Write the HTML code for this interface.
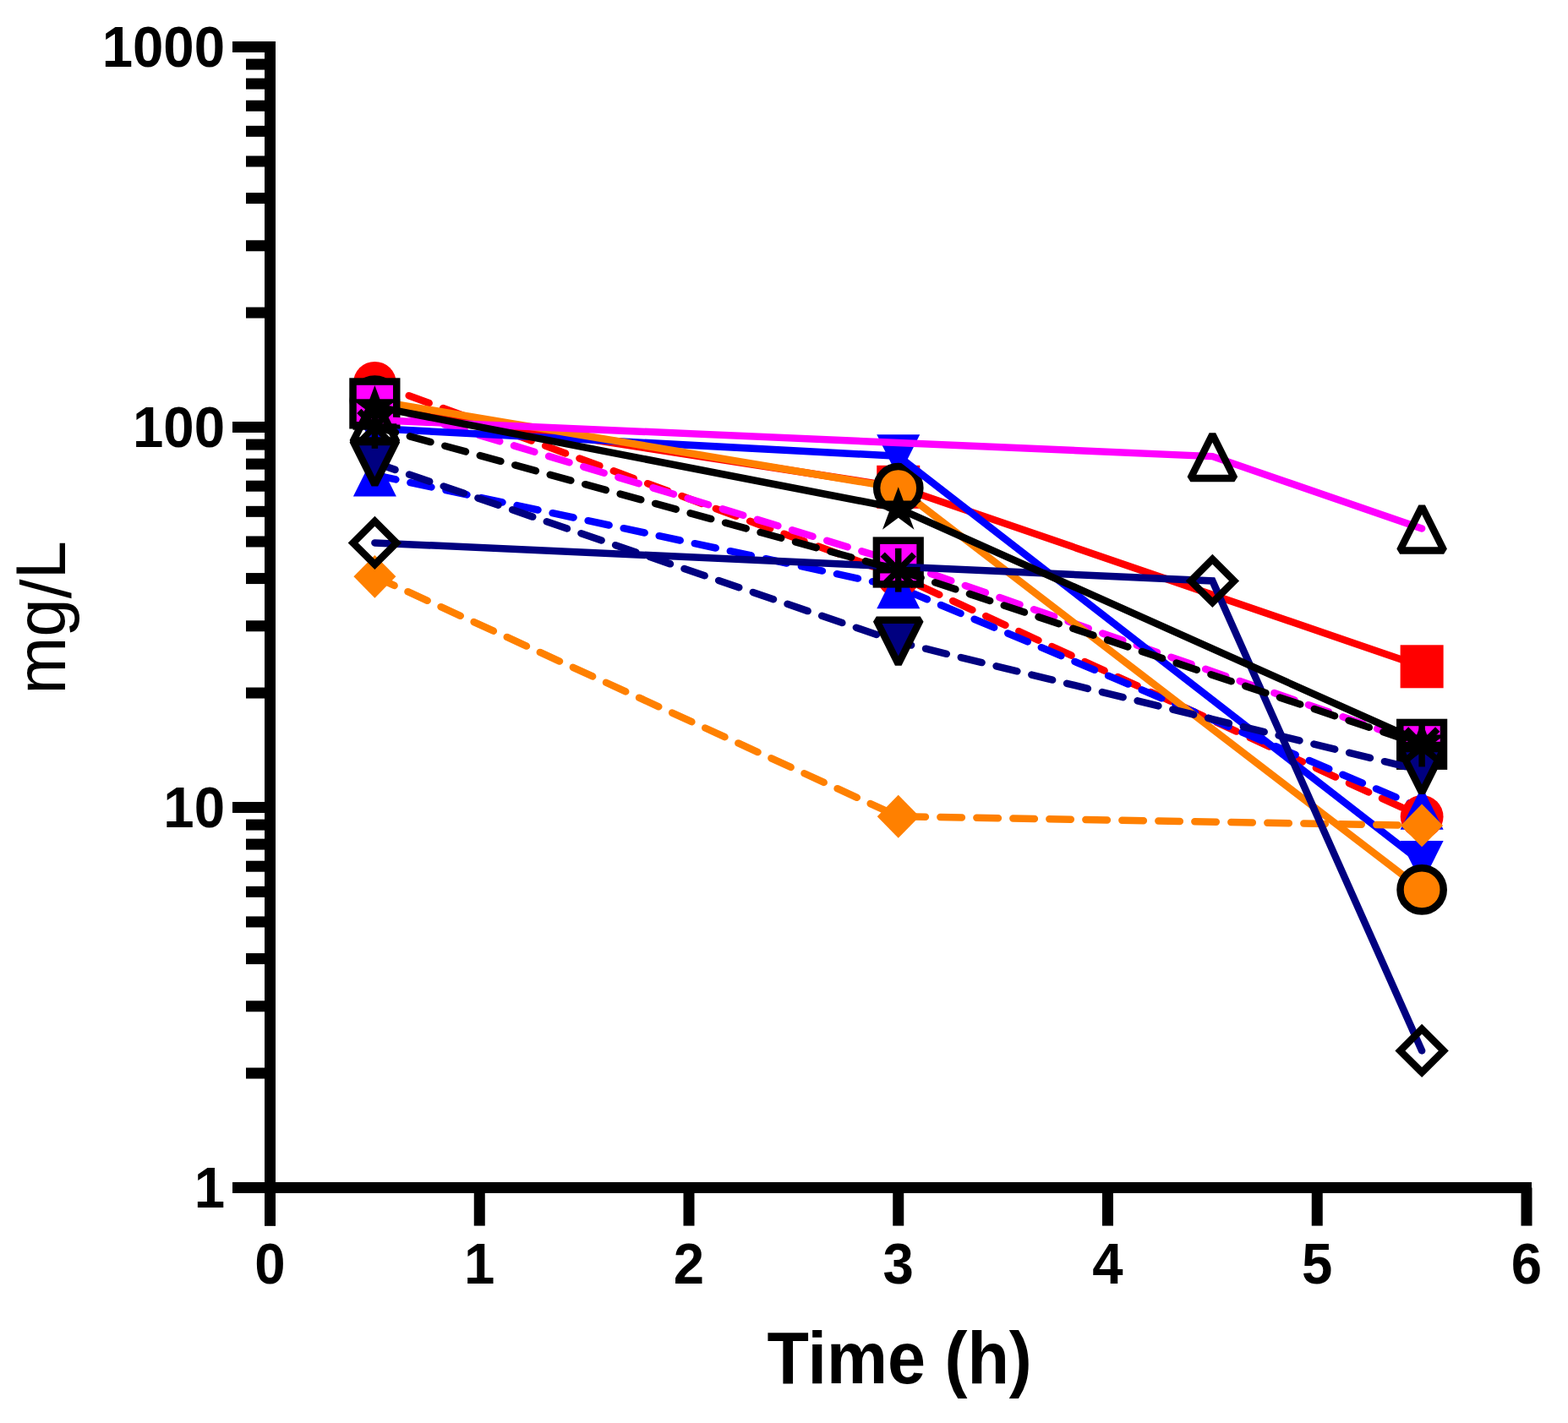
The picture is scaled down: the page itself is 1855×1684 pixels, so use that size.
<!DOCTYPE html>
<html><head><meta charset="utf-8"><title>mg/L vs Time</title>
<style>html,body{margin:0;padding:0;background:#fff;}svg{display:block;}
text{font-family:"Liberation Sans",Arial,sans-serif;fill:#000;}</style></head>
<body><svg width="1855" height="1684" viewBox="0 0 1855 1684">
<rect width="1855" height="1684" fill="#fff"/>
<g id="data">
<path d="M443.38 453.3 L1062.75 681.5 L1682.12 966.5" fill="none" stroke="#FF0000" stroke-width="8.5" stroke-linecap="round" stroke-linejoin="miter" stroke-dasharray="25.5 17.5"/>
<path d="M443.38 480.6 L1062.75 576.3 L1682.12 788.8" fill="none" stroke="#FF0000" stroke-width="8.5" stroke-linecap="round" stroke-linejoin="miter"/>
<path d="M443.38 562.1 L1062.75 694.8 L1682.12 956.3" fill="none" stroke="#0000FF" stroke-width="8.5" stroke-linecap="round" stroke-linejoin="miter" stroke-dasharray="25.5 17.5"/>
<path d="M443.38 477.4 L1062.75 665.5 L1682.12 880.8" fill="none" stroke="#FF00FF" stroke-width="8.5" stroke-linecap="round" stroke-linejoin="miter" stroke-dasharray="25.5 17.5"/>
<path d="M443.38 507 L1062.75 539.8" fill="none" stroke="#0000FF" stroke-width="8.5" stroke-linecap="round" stroke-linejoin="miter"/>
<circle cx="443.38" cy="453.3" r="25.4" fill="#FF0000"/><circle cx="1062.75" cy="681.5" r="25.4" fill="#FF0000"/><circle cx="1682.12" cy="966.5" r="25.4" fill="#FF0000"/>
<rect x="417.88" y="455.1" width="51" height="51" fill="#FF0000"/><rect x="1037.25" y="550.8" width="51" height="51" fill="#FF0000"/><rect x="1656.62" y="763.3" width="51" height="51" fill="#FF0000"/>
<path d="M443.38 474.1 L1062.75 577.6 L1682.12 1052.9" fill="none" stroke="#FF8000" stroke-width="8.5" stroke-linecap="round" stroke-linejoin="miter"/>
<polygon points="443.38,532.5 468.88,481.5 417.88,481.5" fill="#0000FF"/><polygon points="1062.75,565.3 1088.25,514.3 1037.25,514.3" fill="#0000FF"/><polygon points="1682.12,1046.1 1707.62,995.1 1656.62,995.1" fill="#0000FF"/>
<polygon points="443.38,536.6 468.88,587.6 417.88,587.6" fill="#0000FF"/><polygon points="1062.75,669.3 1088.25,720.3 1037.25,720.3" fill="#0000FF"/><polygon points="1682.12,930.8 1707.62,981.8 1656.62,981.8" fill="#0000FF"/>
<polygon points="443.38,656.9 468.38,682.3 443.38,707.7 418.38,682.3" fill="#FF8000"/><polygon points="1062.75,940.85 1087.75,966.25 1062.75,991.65 1037.75,966.25" fill="#FF8000"/><polygon points="1682.12,951.5 1707.12,976.9 1682.12,1002.3 1657.12,976.9" fill="#FF8000"/>
<circle cx="443.38" cy="474.1" r="25.6" fill="#FF8000" stroke="#000" stroke-width="8.5"/><circle cx="1062.75" cy="577.6" r="25.6" fill="#FF8000" stroke="#000" stroke-width="8.5"/>
<path d="M1062.75 539.8 L1682.12 1020.6" fill="none" stroke="#0000FF" stroke-width="8.5" stroke-linecap="round" stroke-linejoin="miter"/>
<path d="M443.38 682.3 L1062.75 966.25 L1682.12 976.9" fill="none" stroke="#FF8000" stroke-width="8.5" stroke-linecap="round" stroke-linejoin="miter" stroke-dasharray="25.5 17.5"/>
<circle cx="1682.12" cy="1052.9" r="25.6" fill="#FF8000" stroke="#000" stroke-width="8.5"/>
<rect x="417.52" y="451.55" width="51.7" height="51.7" fill="#FF00FF" stroke="#000" stroke-width="8.5"/><rect x="1036.9" y="639.65" width="51.7" height="51.7" fill="#FF00FF" stroke="#000" stroke-width="8.5"/><rect x="1656.28" y="854.95" width="51.7" height="51.7" fill="#FF00FF" stroke="#000" stroke-width="8.5"/>
<path d="M443.38 497 L1434.38 540.1 L1682.12 625.4" fill="none" stroke="#FF00FF" stroke-width="8.5" stroke-linecap="round" stroke-linejoin="miter"/>
<path d="M443.38 547.6 L1062.75 759.8 L1682.12 912" fill="none" stroke="#000080" stroke-width="8.5" stroke-linecap="round" stroke-linejoin="miter" stroke-dasharray="25.5 17.5"/>
<path d="M443.38 642.4 L1434.38 687.4 L1682.12 1243.4" fill="none" stroke="#000080" stroke-width="8.5" stroke-linecap="round" stroke-linejoin="miter"/>
<path d="M443.38 505 L1062.75 674.75 L1682.12 881.6" fill="none" stroke="#000000" stroke-width="8.5" stroke-linecap="round" stroke-linejoin="miter" stroke-dasharray="25.5 17.5"/>
<path d="M443.38 481.2 L1062.75 601.5 L1682.12 878.5" fill="none" stroke="#000000" stroke-width="8.5" stroke-linecap="round" stroke-linejoin="miter"/>
<polygon points="443.38,573.6 469.38,521.6 417.38,521.6" fill="#000080" stroke="#000" stroke-width="8.5" stroke-linejoin="miter" stroke-miterlimit="1.5"/><polygon points="1062.75,785.8 1088.75,733.8 1036.75,733.8" fill="#000080" stroke="#000" stroke-width="8.5" stroke-linejoin="miter" stroke-miterlimit="1.5"/><polygon points="1682.12,938 1708.12,886 1656.12,886" fill="#000080" stroke="#000" stroke-width="8.5" stroke-linejoin="miter" stroke-miterlimit="1.5"/>
<polygon points="443.38,616.7 469.07,642.4 443.38,668.1 417.68,642.4" fill="none" stroke="#000" stroke-width="8.5" stroke-linejoin="miter" stroke-miterlimit="4"/><polygon points="1434.38,661.7 1460.08,687.4 1434.38,713.1 1408.67,687.4" fill="none" stroke="#000" stroke-width="8.5" stroke-linejoin="miter" stroke-miterlimit="4"/><polygon points="1682.12,1217.7 1707.83,1243.4 1682.12,1269.1 1656.42,1243.4" fill="none" stroke="#000" stroke-width="8.5" stroke-linejoin="miter" stroke-miterlimit="4"/>
<polygon points="443.38,471 469.38,523 417.38,523" fill="none" stroke="#000" stroke-width="8.5" stroke-linejoin="miter" stroke-miterlimit="1.5"/><polygon points="1434.38,514.1 1460.38,566.1 1408.38,566.1" fill="none" stroke="#000" stroke-width="8.5" stroke-linejoin="miter" stroke-miterlimit="1.5"/><polygon points="1682.12,599.4 1708.12,651.4 1656.12,651.4" fill="none" stroke="#000" stroke-width="8.5" stroke-linejoin="miter" stroke-miterlimit="1.5"/>
<polygon points="443.38,455.9 449.43,472.2 470.88,472.2 454.06,484.66 462.18,506.5 443.38,492.57 424.57,506.5 432.69,484.66 415.88,472.2 437.32,472.2" fill="#000"/><polygon points="1062.75,576.2 1068.81,592.5 1090.25,592.5 1073.43,604.96 1081.55,626.8 1062.75,612.87 1043.95,626.8 1052.07,604.96 1035.25,592.5 1056.69,592.5" fill="#000"/><polygon points="1682.12,853.2 1688.18,869.5 1709.62,869.5 1692.81,881.96 1700.92,903.8 1682.12,889.87 1663.33,903.8 1671.44,881.96 1654.62,869.5 1676.07,869.5" fill="#000"/>
<line x1="443.38" y1="479.15" x2="443.38" y2="530.85" stroke="#000" stroke-width="7.5"/><line x1="417.52" y1="505" x2="469.23" y2="505" stroke="#000" stroke-width="7.5"/><line x1="424.77" y1="486.4" x2="461.98" y2="523.6" stroke="#000" stroke-width="7.5"/><line x1="424.77" y1="523.6" x2="461.98" y2="486.4" stroke="#000" stroke-width="7.5"/><line x1="1062.75" y1="648.9" x2="1062.75" y2="700.6" stroke="#000" stroke-width="7.5"/><line x1="1036.9" y1="674.75" x2="1088.6" y2="674.75" stroke="#000" stroke-width="7.5"/><line x1="1044.15" y1="656.15" x2="1081.35" y2="693.35" stroke="#000" stroke-width="7.5"/><line x1="1044.15" y1="693.35" x2="1081.35" y2="656.15" stroke="#000" stroke-width="7.5"/><line x1="1682.12" y1="855.75" x2="1682.12" y2="907.45" stroke="#000" stroke-width="7.5"/><line x1="1656.28" y1="881.6" x2="1707.97" y2="881.6" stroke="#000" stroke-width="7.5"/><line x1="1663.53" y1="863" x2="1700.72" y2="900.2" stroke="#000" stroke-width="7.5"/><line x1="1663.53" y1="900.2" x2="1700.72" y2="863" stroke="#000" stroke-width="7.5"/>
</g>
<g id="axes">
<rect x="313" y="49" width="13" height="1401.6" fill="#000"/>
<rect x="313" y="1399" width="1499" height="13" fill="#000"/>
<rect x="313" y="1405.5" width="13" height="45.1" fill="#000"/>
<rect x="560.75" y="1405.5" width="13" height="45.1" fill="#000"/>
<rect x="808.5" y="1405.5" width="13" height="45.1" fill="#000"/>
<rect x="1056.25" y="1405.5" width="13" height="45.1" fill="#000"/>
<rect x="1304" y="1405.5" width="13" height="45.1" fill="#000"/>
<rect x="1551.75" y="1405.5" width="13" height="45.1" fill="#000"/>
<rect x="1799.5" y="1405.5" width="13" height="45.1" fill="#000"/>
<rect x="275" y="1399" width="44.5" height="13" fill="#000"/>
<rect x="291" y="1263.54" width="28.5" height="13" fill="#000"/>
<rect x="291" y="1184.3" width="28.5" height="13" fill="#000"/>
<rect x="291" y="1128.07" width="28.5" height="13" fill="#000"/>
<rect x="291" y="1084.46" width="28.5" height="13" fill="#000"/>
<rect x="291" y="1048.83" width="28.5" height="13" fill="#000"/>
<rect x="291" y="1018.71" width="28.5" height="13" fill="#000"/>
<rect x="291" y="992.61" width="28.5" height="13" fill="#000"/>
<rect x="291" y="969.59" width="28.5" height="13" fill="#000"/>
<rect x="275" y="949" width="44.5" height="13" fill="#000"/>
<rect x="291" y="813.54" width="28.5" height="13" fill="#000"/>
<rect x="291" y="734.3" width="28.5" height="13" fill="#000"/>
<rect x="291" y="678.07" width="28.5" height="13" fill="#000"/>
<rect x="291" y="634.46" width="28.5" height="13" fill="#000"/>
<rect x="291" y="598.83" width="28.5" height="13" fill="#000"/>
<rect x="291" y="568.71" width="28.5" height="13" fill="#000"/>
<rect x="291" y="542.61" width="28.5" height="13" fill="#000"/>
<rect x="291" y="519.59" width="28.5" height="13" fill="#000"/>
<rect x="275" y="499" width="44.5" height="13" fill="#000"/>
<rect x="291" y="363.54" width="28.5" height="13" fill="#000"/>
<rect x="291" y="284.3" width="28.5" height="13" fill="#000"/>
<rect x="291" y="228.07" width="28.5" height="13" fill="#000"/>
<rect x="291" y="184.46" width="28.5" height="13" fill="#000"/>
<rect x="291" y="148.83" width="28.5" height="13" fill="#000"/>
<rect x="291" y="118.71" width="28.5" height="13" fill="#000"/>
<rect x="291" y="92.61" width="28.5" height="13" fill="#000"/>
<rect x="291" y="69.59" width="28.5" height="13" fill="#000"/>
<rect x="275" y="49" width="44.5" height="13" fill="#000"/>
</g>
<g id="labels">
<text transform="translate(266,1428.75) scale(0.9754,1.028)" text-anchor="end" font-weight="bold" font-size="67">1</text>
<text transform="translate(266,978.75) scale(0.9754,1.028)" text-anchor="end" font-weight="bold" font-size="67">10</text>
<text transform="translate(266,528.75) scale(0.9754,1.028)" text-anchor="end" font-weight="bold" font-size="67">100</text>
<text transform="translate(266,78.75) scale(0.9754,1.028)" text-anchor="end" font-weight="bold" font-size="67">1000</text>
<text transform="translate(319.5,1519.2) scale(0.9754,1.028)" text-anchor="middle" font-weight="bold" font-size="67">0</text>
<text transform="translate(567.25,1519.2) scale(0.9754,1.028)" text-anchor="middle" font-weight="bold" font-size="67">1</text>
<text transform="translate(815,1519.2) scale(0.9754,1.028)" text-anchor="middle" font-weight="bold" font-size="67">2</text>
<text transform="translate(1062.75,1519.2) scale(0.9754,1.028)" text-anchor="middle" font-weight="bold" font-size="67">3</text>
<text transform="translate(1310.5,1519.2) scale(0.9754,1.028)" text-anchor="middle" font-weight="bold" font-size="67">4</text>
<text transform="translate(1558.25,1519.2) scale(0.9754,1.028)" text-anchor="middle" font-weight="bold" font-size="67">5</text>
<text transform="translate(1806,1519.2) scale(0.9754,1.028)" text-anchor="middle" font-weight="bold" font-size="67">6</text>
<text transform="translate(1064.1,1637.2) scale(0.964,1.045)" text-anchor="middle" font-weight="bold" font-size="84">Time (h)</text>
<text transform="translate(77.2,730.9) rotate(-90) scale(0.973,1.0)" text-anchor="middle" font-size="84">mg<tspan dy="7">/</tspan><tspan dy="-7">L</tspan></text>
</g>
</svg></body></html>
